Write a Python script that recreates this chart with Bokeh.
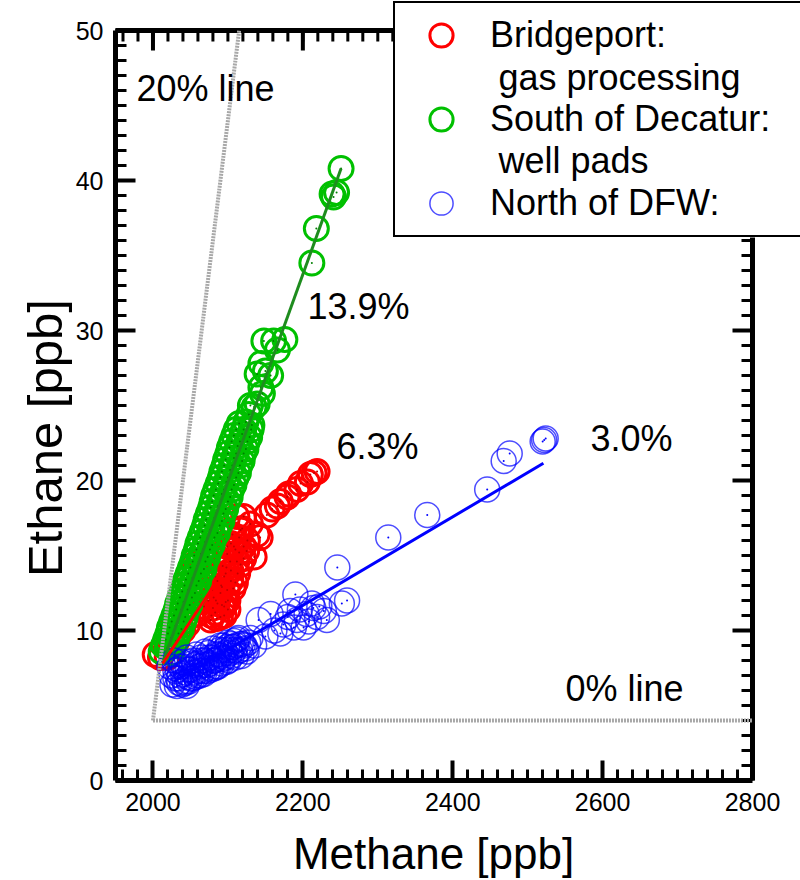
from bokeh.plotting import figure
from bokeh.models import Range1d, Label, Legend, LegendItem, FixedTicker
from bokeh.embed import file_html
from bokeh.resources import INLINE

FONT = "Liberation Sans"

# ---------------- data ----------------
x_ticks = [2000, 2200, 2400, 2600, 2800]
x_minor = list(range(1960, 2800, 20))
y_ticks = [0, 10, 20, 30, 40, 50]
y_minor = list(range(0, 51, 1))

red_x = [2003, 2010, 2019, 2015, 2025, 2027, 2032, 2040, 2046, 2048, 2055, 2052, 2059, 2063, 2072,
         2077, 2083, 2090, 2086, 2092, 2081, 2090, 2099, 2086, 2104, 2095, 2104, 2117, 2108, 2121,
         2121, 2135, 2104, 2126, 2143, 2099, 2117, 2112, 2121, 2130, 2139, 2152, 2159, 2166, 2170,
         2179, 2181, 2192, 2197, 2206, 2210, 2215, 2219,
         2085, 2095, 2100, 2092, 2098, 2110, 2088, 2115, 2075, 2068, 2080, 2097,
         2078, 2084, 2091, 2097, 2103, 2110, 2115, 2100, 2107, 2113, 2093, 2099, 2106, 2083, 2079,
         2074, 2095, 2119, 2125, 2112]
red_y = [8.4, 8.2, 8.2, 9.0, 9.2, 10.7, 9.3, 10.0, 10.4, 13.6, 14.4, 11.0, 11.1, 12.2, 12.7,
         10.7, 11.2, 10.9, 11.8, 11.7, 12.2, 12.5, 12.7, 13.3, 13.3, 13.6, 14.0, 14.4, 15.6, 14.8,
         15.6, 14.9, 15.8, 16.0, 16.2, 15.6, 16.7, 17.6, 17.6, 17.1, 16.4, 17.7, 18.1, 18.3, 18.6,
         18.9, 19.1, 19.4, 19.8, 19.9, 20.4, 20.5, 20.6,
         10.8, 11.0, 11.4, 12.9, 14.2, 13.2, 14.8, 15.2, 13.8, 11.6, 11.5, 11.9,
         11.0, 12.0, 13.0, 13.8, 14.6, 15.4, 16.2, 12.0, 12.8, 13.8, 14.3, 15.1, 16.4, 13.6, 12.7,
         12.0, 11.6, 16.8, 15.3, 14.6]

green_x = [2011, 2019, 2025, 2017, 2024, 2031, 2022, 2030, 2038, 2028, 2036, 2043, 2033, 2041, 2049,
           2039, 2047, 2056, 2044, 2053, 2061, 2050, 2059, 2068, 2055, 2064, 2073, 2060, 2070, 2079,
           2066, 2076, 2086, 2071, 2082, 2092, 2077, 2087, 2097, 2081, 2092, 2103, 2087, 2098, 2108,
           2092, 2103, 2114, 2097, 2108, 2119, 2102, 2113, 2124, 2108, 2119, 2129, 2115, 2124, 2132,
           2014, 2021, 2028, 2020, 2027, 2034, 2025, 2033, 2041, 2031, 2038, 2046, 2036, 2044, 2052,
           2042, 2050, 2058, 2047, 2056, 2064, 2053, 2061, 2070, 2058, 2067, 2076, 2063, 2073, 2082,
           2069, 2079, 2089, 2074, 2084, 2094, 2079, 2090, 2100, 2084, 2095, 2105, 2090, 2100, 2111,
           2095, 2106, 2116, 2100, 2111, 2121, 2105, 2116, 2126, 2111, 2121, 2131,
           2128, 2130, 2135, 2139, 2146, 2144, 2139, 2150, 2157, 2144, 2166, 2148, 2161, 2176, 2212,
           2218, 2239, 2241, 2245, 2251]
green_y = [8.6, 8.8, 8.5, 9.4, 9.5, 9.3, 10.2, 10.3, 10.1, 11.0, 11.1, 10.9, 11.8, 11.9, 11.7,
           12.6, 12.7, 12.5, 13.4, 13.5, 13.3, 14.2, 14.3, 14.1, 15.0, 15.1, 14.9, 15.8, 15.9, 15.7,
           16.6, 16.7, 16.5, 17.4, 17.5, 17.3, 18.2, 18.3, 18.1, 19.0, 19.1, 18.9, 19.8, 19.9, 19.7,
           20.6, 20.7, 20.5, 21.4, 21.5, 21.3, 22.2, 22.3, 22.1, 23.0, 23.1, 22.9, 23.8, 23.9, 23.7,
           9.0, 9.0, 9.0, 9.8, 9.8, 9.8, 10.6, 10.6, 10.6, 11.4, 11.4, 11.4, 12.2, 12.2, 12.2,
           13.0, 13.0, 13.0, 13.8, 13.8, 13.8, 14.6, 14.6, 14.6, 15.4, 15.4, 15.4, 16.2, 16.2, 16.2,
           17.0, 17.0, 17.0, 17.8, 17.8, 17.8, 18.6, 18.6, 18.6, 19.4, 19.4, 19.4, 20.2, 20.2, 20.2,
           21.0, 21.0, 21.0, 21.8, 21.8, 21.8, 22.6, 22.6, 22.6, 23.4, 23.4, 23.4,
           24.4, 25.0, 24.9, 25.1, 25.8, 26.2, 27.1, 27.3, 27.0, 27.8, 28.7, 29.3, 29.3, 29.4, 34.5,
           36.8, 39.1, 38.9, 39.2, 40.8]

blue_x = [2022, 2025, 2028, 2030, 2033, 2035, 2038, 2040, 2042, 2045, 2047, 2050, 2052, 2055, 2058,
          2060, 2062, 2065, 2067, 2070, 2072, 2075, 2077, 2080, 2082, 2085, 2088, 2090, 2093, 2095,
          2098, 2100, 2103, 2106, 2110, 2112, 2116, 2120, 2125, 2130, 2135, 2141, 2150, 2157, 2162,
          2170, 2174, 2180, 2183, 2188, 2190, 2192, 2196, 2201, 2205, 2208, 2212, 2214, 2219, 2222,
          2228, 2232, 2246, 2252, 2259, 2314, 2366, 2446, 2468, 2476, 2520, 2522, 2524,
          2026, 2032, 2037, 2043, 2048, 2053, 2057, 2063, 2068, 2073, 2078, 2083, 2087, 2092, 2096,
          2101, 2105, 2109, 2113, 2118, 2122, 2127, 2044, 2049, 2054, 2059, 2064, 2069, 2074, 2079,
          2084, 2089, 2094, 2099, 2104, 2108, 2114,
          2030, 2036, 2041, 2046, 2051, 2056, 2061, 2066, 2071, 2076, 2081, 2086, 2091, 2097, 2102,
          2107, 2111, 2117, 2124, 2034, 2039, 2045]
blue_y = [7.6, 7.0, 8.0, 6.8, 7.4, 6.5, 7.9, 7.1, 6.6, 8.2, 7.4, 6.8, 7.8, 7.2, 8.4,
          7.0, 7.6, 8.0, 7.3, 8.6, 7.7, 8.2, 7.5, 8.8, 8.0, 7.6, 8.4, 9.0, 8.1, 8.7,
          7.9, 9.2, 8.5, 8.9, 8.2, 9.4, 8.7, 9.1, 8.6, 9.5, 9.0, 10.7, 9.6, 11.1, 10.0,
          9.8, 10.4, 10.9, 11.3, 10.2, 12.4, 10.7, 11.4, 10.2, 11.1, 10.6, 11.8, 11.5, 10.9, 11.6,
          11.3, 10.7, 14.2, 11.8, 12.0, 16.2, 17.7, 19.4, 21.3, 21.8, 22.6, 22.7, 22.8,
          6.4, 6.3, 7.6, 6.5, 6.6, 6.8, 6.9, 7.0, 7.1, 7.3, 7.4, 7.5, 7.6, 7.8, 8.2,
          8.0, 8.3, 8.7, 8.6, 8.3, 9.0, 9.2, 7.2, 7.9, 8.0, 7.8, 8.2, 8.0, 8.5, 8.2,
          8.4, 8.7, 9.0, 8.9, 9.1, 9.3, 9.5,
          7.3, 7.0, 7.6, 6.9, 7.4, 7.7, 7.3, 7.7, 7.9, 7.8, 8.0, 8.1, 8.3, 8.5, 8.7,
          8.9, 9.0, 9.1, 8.8, 6.8, 6.4, 6.3]

# fit lines (end points) and reference lines
green_fit_x = [2014, 2251]
green_fit_y = [8.0, 40.8]
red_fit_x = [2013, 2080]
red_fit_y = [7.8, 12.9]
blue_fit_x = [2028, 2521]
blue_fit_y = [6.6, 21.15]
line20_x = [2000, 2115]
line20_y = [4, 50]
line0_x = [2000, 2800]
line0_y = [4, 4]

legend_first = ["Bridgeport:", "South of Decatur:", "North of DFW:"]
legend_second = ["gas processing", "well pads"]

# ---------------- layout helpers (pixel -> data) ----------------
X0, X1, Y0, Y1 = 1950, 2800, 0, 50
PX_X = (X1 - X0) / 637.0   # data units per pixel, x
PX_Y = (Y1 - Y0) / 750.0   # data units per pixel, y
FRAME_LEFT, FRAME_BOTTOM = 115, 780
NBSP = "\u00a0"
LEG_L, LEG_T, LEG_B = 393, 5, 237   # legend box, canvas pixels


def dx(px):
    return X0 + (px - FRAME_LEFT) * PX_X


def dy(py):
    return Y0 + (FRAME_BOTTOM - py) * PX_Y


# frame extends to the top-right corner of the canvas so the legend is not clipped
p = figure(width=800, height=880,
           x_range=Range1d(X0, X0 + (800 - FRAME_LEFT) * PX_X),
           y_range=Range1d(Y0, Y0 + FRAME_BOTTOM * PX_Y),
           output_backend="svg", toolbar_location=None,
           min_border_left=FRAME_LEFT, min_border_right=0, min_border_top=0,
           min_border_bottom=880 - FRAME_BOTTOM)
p.grid.visible = False
p.outline_line_color = None
p.background_fill_color = "white"
p.border_fill_color = "white"

for ax in (p.xaxis[0], p.yaxis[0]):
    ax.axis_line_width = 5
    ax.axis_line_color = "black"
    ax.major_tick_in = 20
    ax.major_tick_out = 0
    ax.minor_tick_in = 11
    ax.minor_tick_out = 0
    ax.major_tick_line_width = 4
    ax.minor_tick_line_width = 3
    ax.major_label_text_font = FONT
    ax.major_label_text_font_size = "25px"
    ax.major_label_text_color = "black"
    ax.axis_label_text_font = FONT
    ax.axis_label_text_font_style = "normal"
    ax.axis_label_text_color = "black"

p.xaxis.ticker = FixedTicker(ticks=x_ticks, minor_ticks=x_minor)
p.yaxis.ticker = FixedTicker(ticks=y_ticks, minor_ticks=y_minor)
p.xaxis.bounds = (X0, X1)
p.yaxis.bounds = (Y0, Y1)
# trailing no-break spaces shift the centred titles to where the reference has them
p.xaxis.axis_label = "Methane [ppb]" + NBSP * 4
p.yaxis.axis_label = "Ethane [ppb]" + NBSP * 7
p.xaxis.axis_label_text_font_size = "44px"
p.yaxis.axis_label_text_font_size = "49px"
p.xaxis.major_label_standoff = 12
p.yaxis.major_label_standoff = 12
p.xaxis.axis_label_standoff = 15
p.yaxis.axis_label_standoff = 1

# top and right frame edges with inward ticks
p.segment(x0=[X0], y0=[Y1], x1=[X1], y1=[Y1], line_color="black", line_width=5, line_cap="square")
p.segment(x0=[X1], y0=[Y0], x1=[X1], y1=[Y1], line_color="black", line_width=5, line_cap="square")
p.segment(x0=x_minor, y0=[Y1] * len(x_minor), x1=x_minor, y1=[Y1 - 11 * PX_Y] * len(x_minor),
          line_color="black", line_width=3)
p.segment(x0=x_ticks, y0=[Y1] * len(x_ticks), x1=x_ticks, y1=[Y1 - 20 * PX_Y] * len(x_ticks),
          line_color="black", line_width=4)
p.segment(x0=[X1] * len(y_minor), y0=y_minor, x1=[X1 - 11 * PX_X] * len(y_minor), y1=y_minor,
          line_color="black", line_width=3)
p.segment(x0=[X1] * len(y_ticks), y0=y_ticks, x1=[X1 - 20 * PX_X] * len(y_ticks), y1=y_ticks,
          line_color="black", line_width=4)

# white area behind the legend (the legend itself is transparent so its extra text lines show)
p.quad(left=[dx(LEG_L)], right=[dx(800)], top=[dy(LEG_T)], bottom=[dy(LEG_B)],
       fill_color="white", line_color=None)

# scatter
r_red = p.scatter(red_x, red_y, marker="circle", size=24, fill_color=None,
                  line_color="#ff0000", line_width=3)
p.scatter(red_x, red_y, marker="circle", size=2, fill_color="#c00000", line_color=None)
r_green = p.scatter(green_x, green_y, marker="circle", size=24, fill_color=None,
                    line_color="#00c000", line_width=3)
p.scatter(green_x, green_y, marker="circle", size=2, fill_color="#008000", line_color=None)
r_blue = p.scatter(blue_x, blue_y, marker="circle", size=25, fill_color=None,
                   line_color="#0000ff", line_alpha=0.7, line_width=1.5)
p.scatter(blue_x, blue_y, marker="circle", size=2, fill_color="#0000ff", line_color=None)

# reference lines
p.line(line20_x, line20_y, line_color="#a8a8a8", line_width=4, line_dash="2 1")
p.line(line0_x, line0_y, line_color="#a8a8a8", line_width=4, line_dash="2 1")

# fit lines
p.line(green_fit_x, green_fit_y, line_color="#1e8c1e", line_width=3)
p.line(red_fit_x, red_fit_y, line_color="#ff0000", line_width=3)
p.line(blue_fit_x, blue_fit_y, line_color="#0000ff", line_width=3)

# annotation texts (positions, in pixels)
for (px, py, t) in [(136, 87.5, "20% line"), (307, 305.5, "13.9%"), (336, 446, "6.3%"),
                    (590, 437.5, "3.0%"), (565, 687.5, "0% line")]:
    p.add_layout(Label(x=dx(px), y=dy(py), text=t, text_font=FONT, text_font_size="36px",
                       text_color="black", text_baseline="middle", text_align="left"))

legend = Legend(items=[LegendItem(label=legend_first[0], renderers=[r_red]),
                       LegendItem(label=legend_first[1], renderers=[r_green]),
                       LegendItem(label=legend_first[2], renderers=[r_blue])],
                location=(LEG_L - FRAME_LEFT, FRAME_BOTTOM - LEG_B))
legend.label_text_font = FONT
legend.label_text_font_size = "36px"
legend.label_text_color = "black"
legend.glyph_width = 86
legend.glyph_height = 58
legend.label_standoff = 6
legend.label_width = 307
legend.padding = 3
legend.margin = 0
legend.spacing = 26
legend.border_line_color = "black"
legend.border_line_alpha = 1.0
legend.border_line_width = 2
legend.background_fill_alpha = 0.0
p.add_layout(legend, "center")

for (px, py, t) in [(498, 77, legend_second[0]), (498, 160, legend_second[1])]:
    p.add_layout(Label(x=dx(px), y=dy(py), text=t, text_font=FONT, text_font_size="36px",
                       text_color="black", text_baseline="middle", text_align="left"))

open("out.html", "w").write(file_html(p, INLINE))
